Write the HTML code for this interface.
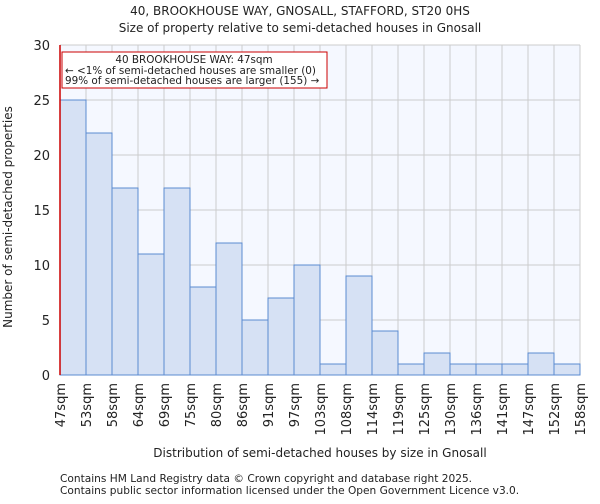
<!DOCTYPE html>
<html><head><meta charset="utf-8"><style>
body{margin:0;background:#fff;font-family:"DejaVu Sans","Liberation Sans",sans-serif;}
svg text{font-family:"DejaVu Sans","Liberation Sans",sans-serif;fill:#222;}
</style></head><body>
<svg id="c" width="600" height="500">
<text x="300" y="15" font-size="12" text-anchor="middle">40, BROOKHOUSE WAY, GNOSALL, STAFFORD, ST20 0HS</text>
<text x="300" y="32" font-size="12" text-anchor="middle">Size of property relative to semi-detached houses in Gnosall</text>
<g id="grid"></g><g id="bars"></g><g id="axes"></g>
<text transform="translate(12,217) rotate(-90)" font-size="12" text-anchor="middle">Number of semi-detached properties</text>
<text x="320" y="457" font-size="12" text-anchor="middle">Distribution of semi-detached houses by size in Gnosall</text>
<text x="60" y="482" font-size="10.6" fill="#444">Contains HM Land Registry data © Crown copyright and database right 2025.</text>
<text x="60" y="494" font-size="10.6" fill="#444">Contains public sector information licensed under the Open Government Licence v3.0.</text>
</svg>
<script>
const categories=["47sqm","53sqm","58sqm","64sqm","69sqm","75sqm","80sqm","86sqm","91sqm","97sqm","103sqm","108sqm","114sqm","119sqm","125sqm","130sqm","136sqm","141sqm","147sqm","152sqm","158sqm"];
const values=[25,22,17,11,17,8,12,5,7,10,1,9,4,1,2,1,1,1,2,1];
const yTicks=[0,5,10,15,20,25,30];
const NS="http://www.w3.org/2000/svg";
const L=60,R=580,T=45,B=375,yMax=30;
const y=v=>B-(v/yMax)*(B-T);
const bw=(R-L)/values.length;
const x=i=>L+i*bw;
function mk(tag,attrs,parent){const e=document.createElementNS(NS,tag);for(const k in attrs)e.setAttribute(k,attrs[k]);document.getElementById(parent).appendChild(e);return e;}
mk('rect',{x:L,y:T,width:R-L,height:B-T,fill:'#f5f8ff'},'grid');
for(let i=0;i<=values.length;i++){const g=mk('line',{x1:x(i),x2:x(i),y1:T,y2:B,stroke:'#cccccc','stroke-width':1},'grid');

}
for(const t of yTicks){const g=mk('line',{x1:L,x2:R,y1:y(t),y2:y(t),stroke:'#cccccc','stroke-width':1},'grid');


const tx=mk('text',{x:L-10,y:y(t)+5,'font-size':13,'text-anchor':'end'},'axes');tx.textContent=t;

}
values.forEach((v,i)=>{const r=mk('rect',{x:x(i),y:y(v),width:bw,height:B-y(v),fill:'#d6e1f4',stroke:'#5b8bd0','stroke-width':1},'bars');

});
categories.forEach((c,i)=>{const tx=mk('text',{transform:`translate(${x(i)+5},${B+8}) rotate(-90)`,'font-size':13,'text-anchor':'end'},'axes');tx.textContent=c;

});
const ml=mk('line',{x1:L,x2:L,y1:T,y2:B,stroke:'#cc0000','stroke-width':1.5},'axes');


const box=mk('rect',{x:62,y:52,width:265,height:36,fill:'#fff',stroke:'#cc0000','stroke-width':1},'axes');


[["40 BROOKHOUSE WAY: 47sqm",63],["← <1% of semi-detached houses are smaller (0)",74],["99% of semi-detached houses are larger (155) →",84]].forEach(([s,yy],k)=>{const tx=mk('text',{x:k==0?194:65,y:yy,'font-size':10.4,'text-anchor':k==0?'middle':'start'},'axes');tx.textContent=s;

});
</script>
</body></html>
